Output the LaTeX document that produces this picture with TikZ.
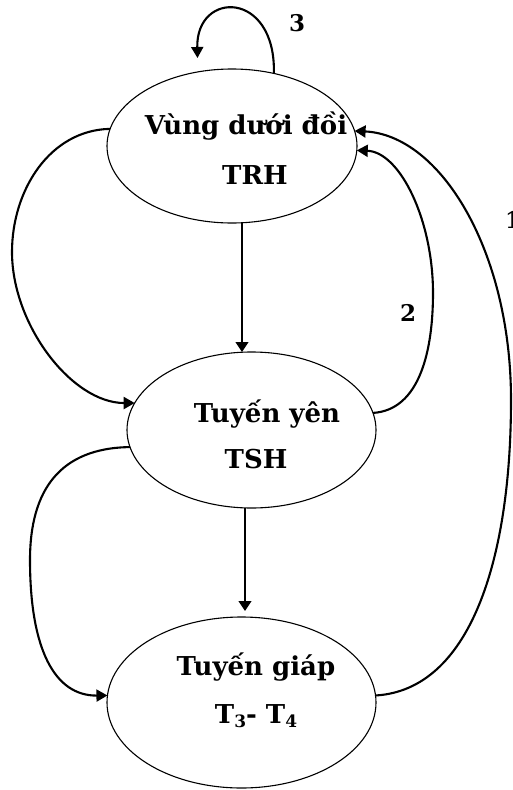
\documentclass[tikz,border=0pt]{standalone}
\usepackage{fontspec}
\setmainfont{DejaVu Serif}
\usetikzlibrary{shapes.geometric,arrows.meta}
% lowered index digit for hormone names such as T3, T4
\newcommand\lowidx[1]{\raisebox{-4pt}{\fontsize{17}{17}\selectfont #1}}
\begin{document}
\begin{tikzpicture}[x=1pt,y=-1pt,
  organ/.style={draw, ellipse, line width=1.1pt, inner sep=0pt, outer sep=0pt},
  caption/.style={anchor=base, font=\fontsize{26}{26}\selectfont\bfseries, inner sep=0pt},
  tag/.style={font=\fontsize{23}{23}\selectfont\bfseries, inner sep=0pt},
  loopline/.style={line width=2.1pt, -{Triangle[length=11pt,width=12pt]}},
  feed/.style={line width=1.1pt, -{Triangle[length=10pt,width=13pt]}}]
\useasboundingbox (0,0) rectangle (512,790);
\clip (0,0) rectangle (512,790);

% the three glands
\node[organ, minimum width=250pt, minimum height=154pt] (e1) at (232,146) {};
\node[organ, minimum width=249pt, minimum height=156pt] (e2) at (251.5,430) {};
\node[organ, minimum width=269pt, minimum height=171pt] (e3) at (241.5,702.5) {};

% gland names and hormones
\node[caption] (t1a) at (246,134) {Vùng dưới đồi};
\node[caption] (t1b) at (255,184) {TRH};
\node[caption] (t2a) at (267,422) {Tuyến yên};
\node[caption] (t2b) at (256,468) {TSH};
\node[caption] (t3a) at (256,675) {Tuyến giáp};
\node[caption] (t3b) at (256,723) {T\lowidx{3}- T\lowidx{4}};

% loop numbers
\node[tag] (n3) at (297,23) {3};
\node[tag] (n2) at (408,313) {2};
\node[tag, anchor=west] (n1) at (505,220) {1};

% stimulating path down the axis
\draw[feed] ([xshift=10pt]e1.south) -- ([xshift=-9.5pt]e2.north);
\draw[feed, shorten >=6pt] ([xshift=-6.5pt]e2.south) -- ([xshift=3.5pt]e3.north);

% left-hand bypass arcs
\draw[loopline] (e1.172) .. controls (50,130) and (12,190) .. (12,252)
  .. controls (12,325) and (72,403) .. (e2.167);
\draw[loopline] (e2.188) .. controls (60,448) and (30,490) .. (30,560)
  .. controls (30,650) and (55,696) .. (e3.177);

% feedback loops
\draw[loopline] (e1.60) .. controls (276,-10) and (196,-10) .. ([yshift=14pt]e1.115);
\draw[loopline] (e2.8) .. controls (420,410) and (433,350) .. (433,293)
  .. controls (433,220) and (400,152) .. (e1.-2);
\draw[loopline] (e3.3) .. controls (470,690) and (511,560) .. (511,400)
  .. controls (511,250) and (440,135) .. (e1.7);
\end{tikzpicture}
\end{document}
